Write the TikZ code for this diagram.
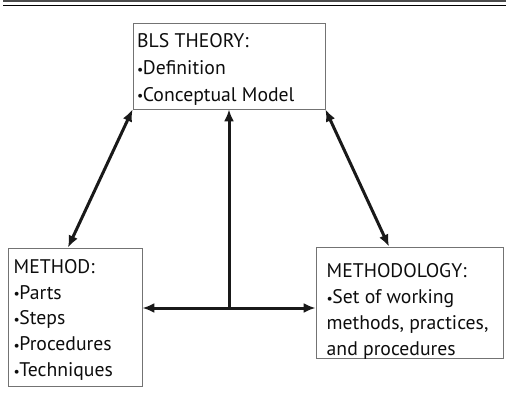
\documentclass[tikz,border=0pt]{standalone}
\usepackage{fontspec}
\setmainfont{PT Sans}
\usetikzlibrary{arrows.meta,calc}
\newcommand{\bul}{\raisebox{0.5pt}{\scalebox{0.7}{\textbullet}}\kern-0.5pt}
\begin{document}
\begin{tikzpicture}[x=1pt,y=-1pt,
  box/.style={draw=black!55,line width=0.8pt,fill=none,inner sep=0pt,rectangle},
  txt/.style={anchor=base west,inner sep=0pt,font=\fontsize{19.7}{26}\selectfont,text=black!95},
  link/.style={line width=3pt,draw=black!90,{Latex[length=12pt,width=10pt]}-{Latex[length=12pt,width=10pt]}},
  uplink/.style={line width=3pt,draw=black!90,-{Latex[length=12pt,width=10pt]}}]
  \useasboundingbox (0,0) rectangle (506,414);
  % header rules
  \draw[line width=2.2pt,black!70] (3,1.1) -- (506,1.1);
  \draw[line width=1pt,black] (3,5.5) -- (506,5.5);
  % boxes
  \node[box,minimum width=192pt,minimum height=86pt] (theory) at (229,66) {};
  \node[box,minimum width=134pt,minimum height=138pt] (method) at (75,317) {};
  \node[box,minimum width=187pt,minimum height=111pt] (methodology) at (409.5,302.5) {};
  % box texts
  \foreach \t [count=\i from 0] in {BLS THEORY:,\bul Definition,\bul Conceptual Model}
    \node[txt] (theory-l\i) at (137,48+26.7*\i) {\t};
  \foreach \t [count=\i from 0] in {METHOD:,\bul Parts,\bul Steps,\bul Procedures,\bul Techniques}
    \node[txt] (method-l\i) at (13.5,273.3+25.8*\i) {\t};
  \foreach \t [count=\i from 0] in {METHODOLOGY:,\bul Set of working,{methods, practices,},and procedures}
    \node[txt] (methodology-l\i) at (326.5,277.7+25.8*\i) {\t};
  % connectors
  \coordinate (mtop) at ([xshift=-7pt]method.north);
  \coordinate (mgtop) at ([xshift=-20.5pt]methodology.north);
  \draw[link] (theory.south west) -- (mtop);
  \draw[link] (theory.south east) -- (mgtop);
  \draw[link] (method.east |- 0,308) -- (methodology.west |- 0,308);
  \coordinate (junction) at (theory.south |- 0,308);
  \draw[uplink] (junction) -- (theory.south);
\end{tikzpicture}
\end{document}
